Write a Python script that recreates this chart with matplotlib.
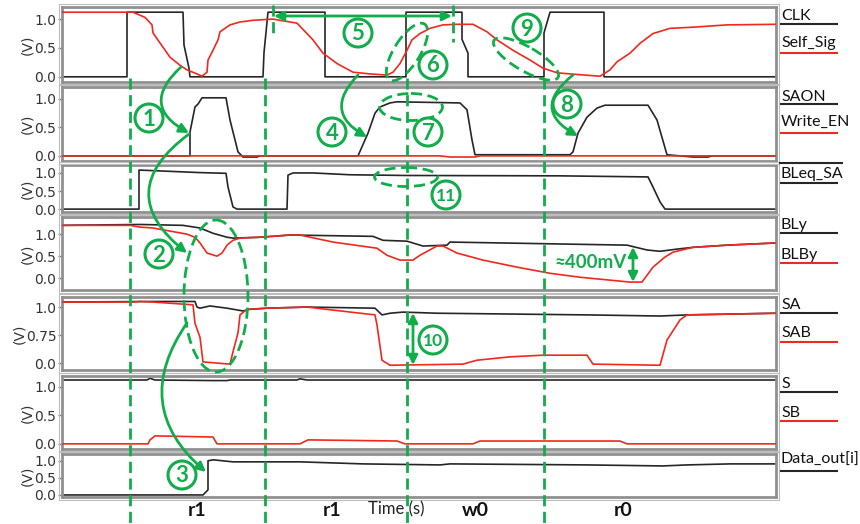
import matplotlib
matplotlib.use('Agg')
import matplotlib.pyplot as plt
from matplotlib.patches import Circle, Ellipse, FancyArrowPatch, Rectangle
import numpy as np

W, H = 860, 524
T_START, T_END = 62, 776          # simulation window (time units)

BLACK = '#262626'
RED = '#f0281e'
GREEN = '#12ad4b'
LABEL_FONT = ['Lato', 'DejaVu Sans']

# ---- waveforms: (time, volt) ----
CLK = [(62, 0), (127, 0), (127, 1.12), (183, 1.12), (184, 0.55), (189, 0.15), (190, 0),
       (263, 0), (264, 0.42), (268, 1.12), (325, 1.12), (325, 0), (406, 0), (406, 1.12),
       (462, 1.12), (462, 0.65), (468, 0.41), (468, 0), (544, 0), (544, 0.76), (550, 1.12),
       (604, 1.12), (604, 0), (776, 0)]
SELF_SIG = [(62, 1.12), (133, 1.12), (145, 1.03), (152, 0.9), (153, 0.76), (170, 0.34),
            (180, 0.2), (187, 0.12), (197, 0.05), (202, 0.01), (207, 0.08), (208, 0.29),
            (213, 0.46), (218, 0.64), (220, 0.78), (230, 0.9), (240, 0.95), (253, 0.98),
            (273, 1.0), (290, 0.95), (297, 0.93), (313, 0.64), (323, 0.41), (337, 0.23),
            (353, 0.08), (370, 0.05), (387, 0.03), (393, 0.08), (400, 0.23), (407, 0.46),
            (412, 0.64), (420, 0.75), (430, 0.84), (443, 0.9), (457, 0.91), (473, 0.91),
            (487, 0.78), (497, 0.64), (513, 0.46), (530, 0.29), (543, 0.15), (557, 0.07),
            (570, 0.05), (600, 0.01), (610, 0.12), (617, 0.26), (630, 0.41), (640, 0.58),
            (653, 0.75), (670, 0.84), (693, 0.86), (727, 0.9), (776, 0.91)]
SAON = [(62, 0), (190, 0), (190, 0.42), (195, 0.86), (198, 0.91), (202, 1.02), (226, 1.02),
        (230, 0.63), (238, 0.07), (243, -0.02), (257, -0.02), (260, 0), (358, 0),
        (362, 0.16), (368, 0.4), (375, 0.75), (380, 0.86), (390, 0.93), (397, 0.95),
        (460, 0.93), (467, 0.81), (472, 0.28), (475, 0.02), (570, 0.02), (573, 0.07),
        (578, 0.4), (587, 0.68), (597, 0.84), (605, 0.89), (648, 0.89), (657, 0.63),
        (667, 0.02), (680, 0), (693, -0.02), (708, -0.02), (712, 0), (776, 0)]
WRITE_EN = [(62, 0), (440, 0), (450, -0.02), (475, -0.02), (480, 0), (776, 0)]
BLEQ_SA = [(62, 0), (139, 0), (139, 1.08), (200, 1.01), (226, 0.99), (228, 0.61), (233, 0.06),
           (237, 0), (287, 0), (288, 0.94), (293, 1.0), (313, 1.0), (350, 0.95), (407, 0.93),
           (560, 0.92), (648, 0.89), (653, 0.61), (660, 0.2), (665, 0), (776, 0)]
BLY = [(62, 1.2), (140, 1.22), (183, 1.2), (200, 1.14), (213, 1.02), (227, 0.93), (233, 0.91),
       (260, 0.93), (290, 0.98), (373, 0.95), (383, 0.86), (407, 0.84), (423, 0.73),
       (447, 0.75), (450, 0.82), (627, 0.75), (647, 0.64), (660, 0.61), (677, 0.66),
       (693, 0.7), (727, 0.75), (776, 0.8)]
BLBY = [(62, 1.2), (130, 1.2), (140, 1.16), (153, 1.14), (170, 1.07), (187, 1.0), (195, 0.93),
        (200, 0.8), (207, 0.57), (217, 0.5), (222, 0.57), (227, 0.75), (233, 0.86),
        (240, 0.91), (260, 0.93), (290, 0.98), (300, 0.98), (333, 0.82), (377, 0.68),
        (387, 0.52), (400, 0.41), (413, 0.41), (420, 0.52), (437, 0.73), (443, 0.73),
        (457, 0.57), (483, 0.41), (517, 0.25), (550, 0.11), (580, 0.02), (630, -0.09),
        (642, -0.09), (653, 0.25), (665, 0.48), (673, 0.59), (693, 0.7), (727, 0.75),
        (776, 0.8)]
SA = [(62, 1.09), (153, 1.1), (195, 1.1), (197, 1.0), (200, 0.98), (210, 1.02), (227, 0.98),
      (243, 0.93), (250, 0.96), (267, 0.98), (307, 1.0), (375, 0.98), (382, 0.86),
      (390, 0.89), (403, 0.91), (437, 0.89), (587, 0.86), (660, 0.84), (687, 0.86), (776, 0.89)]
SAB = [(62, 1.09), (133, 1.09), (140, 1.1), (153, 1.09), (193, 1.04), (195, 0.71), (200, 0.46),
       (203, 0.02), (230, -0.02), (233, 0.2), (238, 0.54), (240, 0.86), (247, 0.96),
       (267, 0.98), (307, 1.0), (375, 0.86), (377, 0.68), (382, 0.05), (390, -0.04),
       (463, -0.02), (477, 0.05), (510, 0.11), (543, 0.14), (587, 0.14), (593, -0.02),
       (660, -0.04), (667, 0.41), (680, 0.77), (687, 0.86), (776, 0.89)]
S = [(62, 1.12), (147, 1.12), (150, 1.15), (155, 1.12), (213, 1.11), (227, 1.11), (230, 1.12),
     (297, 1.12), (300, 1.14), (307, 1.12), (776, 1.12)]
SB = [(62, 0), (148, 0), (150, 0.07), (155, 0.14), (213, 0.12), (217, 0), (300, 0),
      (308, 0.07), (397, 0.05), (405, 0), (473, 0), (480, 0.05), (620, 0.05), (627, 0),
      (776, 0)]
DATA_OUT = [(62, 0), (203, 0), (208, 0.15), (208, 1.0), (213, 1.03), (233, 0.97), (300, 0.97),
            (363, 0.91), (440, 0.88), (450, 0.91), (587, 0.88), (663, 0.85), (687, 0.88),
            (730, 0.91), (776, 0.91)]

PANEL_SIGNALS = [[(CLK, 'CLK', BLACK), (SELF_SIG, 'Self_Sig', RED)],
                 [(SAON, 'SAON', BLACK), (WRITE_EN, 'Write_EN', RED)],
                 [(BLEQ_SA, 'BLeq_SA', BLACK)],
                 [(BLY, 'BLy', BLACK), (BLBY, 'BLBy', RED)],
                 [(SA, 'SA', BLACK), (SAB, 'SAB', RED)],
                 [(S, 'S', BLACK), (SB, 'SB', RED)],
                 [(DATA_OUT, 'Data_out[i]', BLACK)]]
TICK_LABELS = [['0.0', '0.5', '1.0']] * 4 + [['0.0', '0.75', '1.0']] + [['0.0', '0.5', '1.0']] * 2

PHASES = ['r1', 'r1', 'w0', 'r0']
PHASE_T = [197, 332, 475, 623]
MARKER_T = [130, 265, 407, 544]

# ---- layout (pixels) ----
PANEL_BOX = [(7, 82), (87, 161), (165, 212), (217, 290), (297, 370), (376, 449), (454, 497)]
PANEL_YLIM = [(-0.09, 1.21), (-0.09, 1.21), (-0.08, 1.22), (-0.27, 1.39),
              (-0.125, 1.18), (-0.09, 1.19), (-0.06, 1.2)]
LEGEND_Y = [[(16, 24), (43, 53)], [(97, 104), (122, 133)], [(174, 183)],
            [(225, 233), (255, 263)], [(305, 313), (333, 342)], [(384, 392), (413, 421)],
            [(460, 471)]]

fig = plt.figure(figsize=(W / 100, H / 100), dpi=100)

for (top, bot), ylim, ticks, sigs in zip(PANEL_BOX, PANEL_YLIM, TICK_LABELS, PANEL_SIGNALS):
    ax = fig.add_axes([T_START / W, 1 - bot / H, (T_END - T_START) / W, (bot - top) / H])
    for pts, name, col in sigs:
        t, v = np.array(pts).T
        ax.plot(t, v, color=col, lw=1.2, zorder=3 if col == RED else 2)
    ax.set_xlim(T_START, T_END)
    ax.set_ylim(*ylim)
    ax.set_xticks([])
    ax.set_yticks([0, 0.5, 1.0])
    ax.set_yticklabels(ticks)
    ax.set_ylabel('(V)', fontsize=10, labelpad=0, color='#333333')
    ax.tick_params(axis='y', length=3, width=1, color='#777777', labelsize=10,
                   labelcolor='#333333', pad=1)
    for sp in ax.spines.values():
        sp.set_color('#909090')
        sp.set_linewidth(2)
    fig.add_artist(Rectangle(((T_START - 3) / W, 1 - (bot + 3) / H),
                             (T_END - T_START + 6) / W, (bot - top + 6) / H,
                             transform=fig.transFigure, fill=False, lw=0.8, ec='#bdbdbd'))

# overlay in pixel space (x coincides with time units)
ov = fig.add_axes([0, 0, 1, 1], zorder=10)
ov.set_xlim(0, W)
ov.set_ylim(H, 0)
ov.axis('off')
ov.patch.set_alpha(0)

# signal names with coloured underline
for sigs, ys in zip(PANEL_SIGNALS, LEGEND_Y):
    for (pts, name, col), (ty, ly) in zip(sigs, ys):
        ov.text(781, ty, name, fontsize=11.5, family=LABEL_FONT, color='#111111',
                ha='left', va='center')
        ov.plot([780, 838], [ly, ly], color=col, lw=1.5, solid_capstyle='butt')
ov.plot([779, 843], [163, 163], color=BLACK, lw=1.5, solid_capstyle='butt')

# phase labels
ov.text(396, 509, 'Time (s)', fontsize=12, family=LABEL_FONT, ha='center', va='center',
        color='#222222', zorder=1)
for lab, x in zip(PHASES, PHASE_T):
    ov.text(x, 511, lab, fontsize=14, family=LABEL_FONT, weight='bold', ha='center',
            va='center', color='#111111')

# green dashed time markers
for x in MARKER_T:
    ov.plot([x, x], [78, H], color=GREEN, lw=2, ls=(0, (4, 2)), zorder=5)
ov.plot([273, 273], [5, 37], color=GREEN, lw=2, ls=(0, (4, 2)))
ov.plot([453, 453], [5, 42], color=GREEN, lw=2, ls=(0, (4, 2)))


def arrow(p0, p1, rad=0.0, style='-|>'):
    ov.add_patch(FancyArrowPatch(p0, p1, connectionstyle=f'arc3,rad={rad}', arrowstyle=style,
                                 mutation_scale=14, lw=2, color=GREEN, shrinkA=0, shrinkB=0))


arrow((181, 67), (189, 133), 0.7)
arrow((189, 134), (187, 253), 0.65)
arrow((187, 323), (206, 472), 0.45)
arrow((358, 75), (367, 137), 0.65)
arrow((573, 75), (578, 136), 0.75)
arrow((274, 16), (452, 16), 0, '<|-|>')
arrow((413, 313), (413, 365), 0, '<|-|>')
arrow((633, 247), (633, 282), 0, '<|-|>')
ov.text(591, 263, '≈400mV', fontsize=13.5, family=LABEL_FONT, weight='bold', color=GREEN,
        ha='center', va='center')

for (cx, cy), w, h, ang in [((216, 296), 64, 152, 0), ((407, 52), 66, 26, -58),
                             ((411, 107), 63, 27, 0), ((526, 59), 74, 24, 30),
                             ((406, 177), 63, 19, 0)]:
    ov.add_patch(Ellipse((cx, cy), w, h, angle=ang, fill=False, ec=GREEN, lw=2,
                         ls=(0, (4, 2))))

for num, cx, cy in [('1', 149, 118), ('2', 159, 254), ('3', 182, 475), ('4', 332, 132),
                    ('5', 358, 33), ('6', 433, 65), ('7', 428, 132), ('8', 567, 104),
                    ('9', 527, 28), ('10', 433, 340), ('11', 446, 195)]:
    ov.add_patch(Circle((cx, cy), 14, fill=True, fc='white', ec=GREEN, lw=2.2, zorder=6))
    ov.text(cx, cy + 1, num, fontsize=16 if len(num) == 1 else 12.5, family=LABEL_FONT,
            weight='bold', color=GREEN, ha='center', va='center', zorder=7)

fig.savefig('out.png', dpi=100)
